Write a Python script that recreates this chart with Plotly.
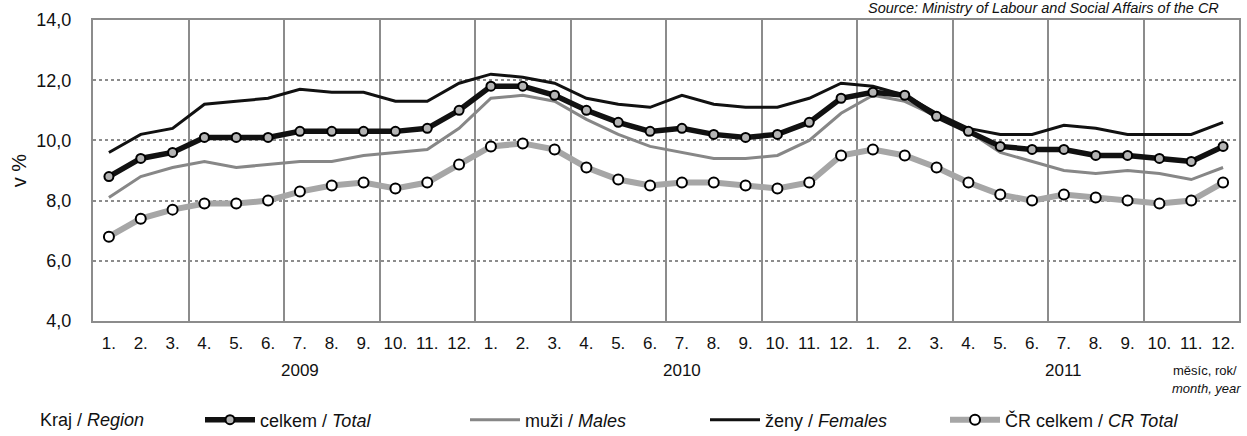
import plotly.graph_objects as go

# months 1-12 for 2009, 2010, 2011
months = [f"{m}." for m in range(1, 13)] * 3
years = ["2009", "2010", "2011"]

total = [8.8, 9.4, 9.6, 10.1, 10.1, 10.1, 10.3, 10.3, 10.3, 10.3, 10.4, 11.0,
         11.8, 11.8, 11.5, 11.0, 10.6, 10.3, 10.4, 10.2, 10.1, 10.2, 10.6, 11.4,
         11.6, 11.5, 10.8, 10.3, 9.8, 9.7, 9.7, 9.5, 9.5, 9.4, 9.3, 9.8]
males = [8.1, 8.8, 9.1, 9.3, 9.1, 9.2, 9.3, 9.3, 9.5, 9.6, 9.7, 10.4,
         11.4, 11.5, 11.3, 10.7, 10.2, 9.8, 9.6, 9.4, 9.4, 9.5, 10.0, 10.9,
         11.5, 11.3, 10.8, 10.3, 9.6, 9.3, 9.0, 8.9, 9.0, 8.9, 8.7, 9.1]
females = [9.6, 10.2, 10.4, 11.2, 11.3, 11.4, 11.7, 11.6, 11.6, 11.3, 11.3, 11.9,
           12.2, 12.1, 11.9, 11.4, 11.2, 11.1, 11.5, 11.2, 11.1, 11.1, 11.4, 11.9,
           11.8, 11.5, 10.9, 10.4, 10.2, 10.2, 10.5, 10.4, 10.2, 10.2, 10.2, 10.6]
cr_total = [6.8, 7.4, 7.7, 7.9, 7.9, 8.0, 8.3, 8.5, 8.6, 8.4, 8.6, 9.2,
            9.8, 9.9, 9.7, 9.1, 8.7, 8.5, 8.6, 8.6, 8.5, 8.4, 8.6, 9.5,
            9.7, 9.5, 9.1, 8.6, 8.2, 8.0, 8.2, 8.1, 8.0, 7.9, 8.0, 8.6]

x = list(range(len(months)))
FONT = "Liberation Sans, Arial, sans-serif"

# plot area in pixels: left 93, right 1241, top 20, bottom 321
def px_x(px):
    return (px - 93) / 1148

def px_y(py):
    return (321 - py) / 301

fig = go.Figure()

fig.add_trace(go.Scatter(
    x=x, y=cr_total, name="ČR celkem / <i>CR Total</i>", legend="legend4",
    mode="lines+markers",
    line=dict(color="#a6a6a6", width=6),
    marker=dict(symbol="circle", size=10, color="white", line=dict(color="black", width=2))
))
fig.add_trace(go.Scatter(
    x=x, y=males, name="muži / <i>Males</i>", legend="legend2",
    mode="lines", line=dict(color="#878787", width=3)
))
fig.add_trace(go.Scatter(
    x=x, y=females, name="ženy / <i>Females</i>", legend="legend3",
    mode="lines", line=dict(color="#111111", width=3)
))
fig.add_trace(go.Scatter(
    x=x, y=total, name="celkem / <i>Total</i>", legend="legend",
    mode="lines+markers",
    line=dict(color="#111111", width=5.5),
    marker=dict(symbol="circle", size=9, color="#b4b4b4", line=dict(color="black", width=2))
))

def legend_at(px):
    return dict(
        xref="container", yref="container", x=px / 1247, y=1 - 420 / 436,
        xanchor="left", yanchor="middle", orientation="h",
        bgcolor="rgba(0,0,0,0)", itemwidth=50,
        font=dict(family=FONT, size=18, color="#111")
    )

annotations = [
    dict(text=y, x=i * 12 + 6, xref="x", y=0, yref="paper", yshift=-49,
         yanchor="middle", showarrow=False,
         font=dict(family=FONT, size=17, color="#111"))
    for i, y in enumerate(years)
]
annotations += [
    dict(text="měsíc, rok/", x=px_x(1241), xref="paper", xanchor="right",
         y=0, yref="paper", yshift=-49, yanchor="middle", showarrow=False,
         font=dict(family=FONT, size=13, color="#111")),
    dict(text="<i>month, year</i>", x=px_x(1245), xref="paper", xanchor="right",
         y=0, yref="paper", yshift=-67, yanchor="middle", showarrow=False,
         font=dict(family=FONT, size=13, color="#111")),
    dict(text="<i>Source: Ministry of Labour and Social Affairs of the CR</i>",
         xref="paper", x=px_x(1223), xanchor="right",
         yref="paper", y=px_y(8), yanchor="middle", showarrow=False,
         font=dict(family=FONT, size=14.5, color="#111")),
    dict(text="Kraj / <i>Region</i>", xref="paper", x=px_x(38), xanchor="left",
         yref="paper", y=px_y(420), yanchor="middle", showarrow=False,
         font=dict(family=FONT, size=18, color="#111")),
]

fig.update_layout(
    width=1247, height=436,
    margin=dict(l=93, r=6, t=20, b=115),
    paper_bgcolor="white", plot_bgcolor="white",
    separators=", ",
    showlegend=True,
    font=dict(family=FONT, size=17, color="#111"),
    legend=legend_at(200),
    legend2=legend_at(465),
    legend3=legend_at(705),
    legend4=legend_at(945),
    annotations=annotations,
    xaxis=dict(
        range=[-0.5, 35.5], tickmode="array", tickvals=x, ticktext=months,
        showgrid=False, ticks="", zeroline=False, ticklabelstandoff=6,
        showline=True, mirror=True, linecolor="#8c8c8c", linewidth=2,
        minor=dict(tick0=-0.5, dtick=3, showgrid=True, gridcolor="#8c8c8c", gridwidth=2),
        tickfont=dict(family=FONT, size=17, color="#111"),
    ),
    yaxis=dict(
        range=[4, 14], dtick=2, tickformat=".1f",
        showgrid=True, gridcolor="#8c8c8c", griddash="dot", gridwidth=1.5,
        zeroline=False, ticks="", ticklabelstandoff=16,
        showline=True, mirror=True, linecolor="#8c8c8c", linewidth=2,
        title=dict(text="v %", font=dict(family=FONT, size=20, color="#111"), standoff=4),
        tickfont=dict(family=FONT, size=18, color="#111"),
    ),
)

fig.write_html("out.html", config={"displayModeBar": False},
               post_script="document.body.style.margin='0';")
